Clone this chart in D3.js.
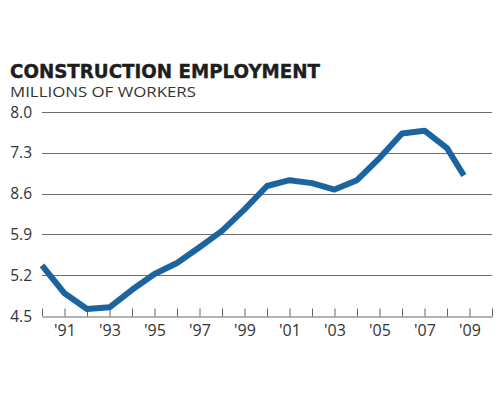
<!DOCTYPE html>
<html>
<head>
<meta charset="utf-8">
<script src="https://cdn.jsdelivr.net/npm/d3@7"></script>
<style>
  body { margin: 0; background: #fff; }
  svg { display: block; }
</style>
</head>
<body>
<svg id="chart"></svg>
<script>
// years and employment (millions)
const years = [1990, 1991, 1992, 1993, 1994, 1995, 1996, 1997, 1998, 1999,
               2000, 2001, 2002, 2003, 2004, 2005, 2006, 2007, 2008, 2008.75];
const workers = [5.37, 4.89, 4.62, 4.65, 4.95, 5.22, 5.41, 5.68, 5.96, 6.33,
                 6.73, 6.83, 6.78, 6.67, 6.83, 7.21, 7.63, 7.68, 7.38, 6.91];

const yTicks = [4.5, 5.2, 5.9, 6.6, 7.3, 8.0];
const yTickLabels = ['4.5', '5.2', '5.9', '8.6', '7.3', '8.0'];
const xLabelYears = [1991, 1993, 1995, 1997, 1999, 2001, 2003, 2005, 2007, 2009];

const width = 500, height = 400;
const margin = { top: 112, right: 8, bottom: 84, left: 42 };

const svg = d3.select('#chart')
    .attr('width', width)
    .attr('height', height);

const x = d3.scaleLinear()
    .domain([1990, 2010])
    .range([margin.left, width - margin.right]);
const y = d3.scaleLinear()
    .domain([4.5, 8.0])
    .range([height - margin.bottom, margin.top]);

// title
svg.append('text')
    .attr('x', 10).attr('y', 78)
    .attr('font-family', 'DejaVu Sans')
    .attr('font-weight', 'bold')
    .attr('font-size', 19.5)
    .attr('fill', '#1e1e1e')
    .attr('stroke', '#1e1e1e')
    .attr('stroke-width', 0.4)
    .attr('textLength', 310)
    .attr('lengthAdjust', 'spacingAndGlyphs')
    .text('CONSTRUCTION EMPLOYMENT');

svg.append('text')
    .attr('x', 10).attr('y', 97)
    .attr('font-family', 'Open Sans')
    .attr('font-size', 15)
    .attr('fill', '#333')
    .attr('textLength', 186)
    .attr('lengthAdjust', 'spacingAndGlyphs')
    .text('MILLIONS OF WORKERS');

// gridlines
svg.append('g')
    .selectAll('line')
    .data(yTicks.slice(1))
    .join('line')
    .attr('x1', x(1990)).attr('x2', x(2010))
    .attr('y1', d => Math.round(y(d)) + 0.5)
    .attr('y2', d => Math.round(y(d)) + 0.5)
    .attr('stroke', '#6e6e6e')
    .attr('stroke-width', 1);

// y labels
svg.append('g')
    .selectAll('text')
    .data(yTicks)
    .join('text')
    .attr('x', 32)
    .attr('y', d => y(d) + 5.5)
    .attr('text-anchor', 'end')
    .attr('font-family', 'Open Sans')
    .attr('font-size', 15.5)
    .attr('fill', '#333')
    .text((d, i) => yTickLabels[i]);

// x axis, ticks pointing up
const xAxis = d3.axisBottom(x)
    .tickValues(d3.range(1990, 2011))
    .tickSizeInner(-8)
    .tickSizeOuter(0)
    .tickFormat(d => xLabelYears.includes(d) ? "'" + String(d).slice(2) : '');

const xAxisG = svg.append('g')
    .attr('transform', `translate(0,${Math.round(y(4.5)) + 0.5})`)
    .call(xAxis);
xAxisG.select('.domain').attr('stroke', '#666');
xAxisG.selectAll('.tick line').attr('stroke', '#666');
xAxisG.selectAll('.tick text')
    .attr('y', 8)
    .attr('font-family', 'Open Sans')
    .attr('font-size', 16)
    .attr('fill', '#333');

// line
const line = d3.line()
    .x((d, i) => x(years[i]))
    .y(d => y(d));

svg.append('path')
    .datum(workers)
    .attr('d', line)
    .attr('fill', 'none')
    .attr('stroke', '#1b64a0')
    .attr('stroke-width', 6)
    .attr('stroke-linejoin', 'round')
    .attr('stroke-linecap', 'butt');
</script>
</body>
</html>
